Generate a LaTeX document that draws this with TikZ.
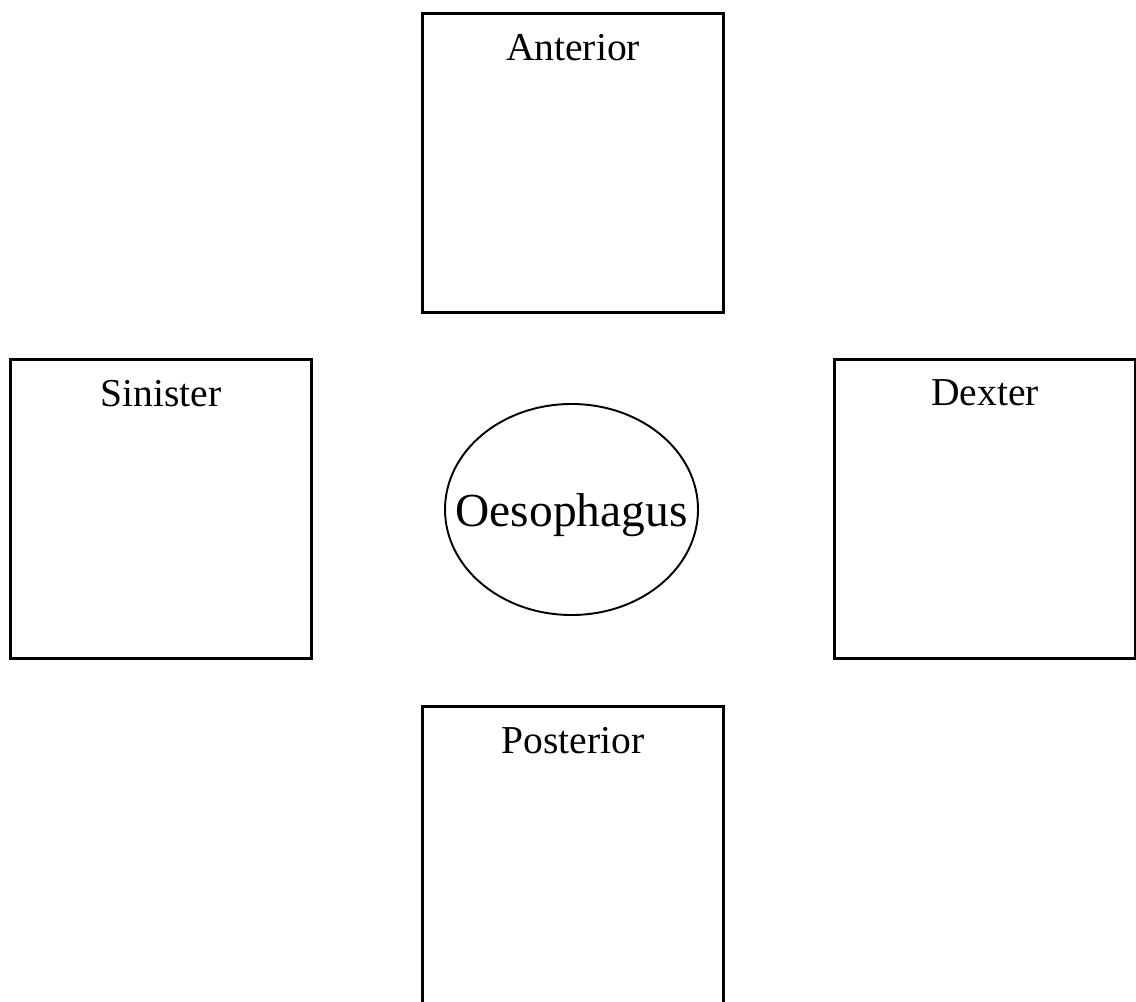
\documentclass[tikz,border=0pt]{standalone}
\usepackage{fontspec}
\setmainfont{Liberation Serif}
\usetikzlibrary{shapes.geometric}
\begin{document}
\begin{tikzpicture}[
		side/.style={draw, line width=1.7pt, minimum width=6.02cm, minimum height=5.98cm, inner sep=0pt},
		tag/.style={anchor=north, inner sep=0pt, font=\fontsize{22.5}{27}\selectfont},
		organ/.style={draw, ellipse, line width=1.1pt, minimum width=5.06cm, minimum height=4.22cm, inner sep=0pt},
		organtxt/.style={inner sep=0pt, font=\fontsize{27}{32}\selectfont}]
		\useasboundingbox (0,0) rectangle (22.72,20.02);
		\node[side] (ant) at (11.46,16.76) {};
		\node[side] (sin) at (3.22,9.84) {};
		\node[side] (dex) at (19.70,9.84) {};
		\node[side] (post) at (11.46,2.90) {};
		\node[organ] (oes) at (11.43,9.83) {};
		\node[organtxt] (oeslbl) at ([yshift=-0.12cm]oes.center) {Oesophagus};
		\node[tag] (antlbl) at ([yshift=-0.43cm]ant.north) {Anterior};
		\node[tag] (sinlbl) at ([yshift=-0.43cm]sin.north) {Sinister};
		\node[tag] (dexlbl) at ([yshift=-0.43cm]dex.north) {Dexter};
		\node[tag] (postlbl) at ([yshift=-0.43cm]post.north) {Posterior};
	\end{tikzpicture}
\end{document}
